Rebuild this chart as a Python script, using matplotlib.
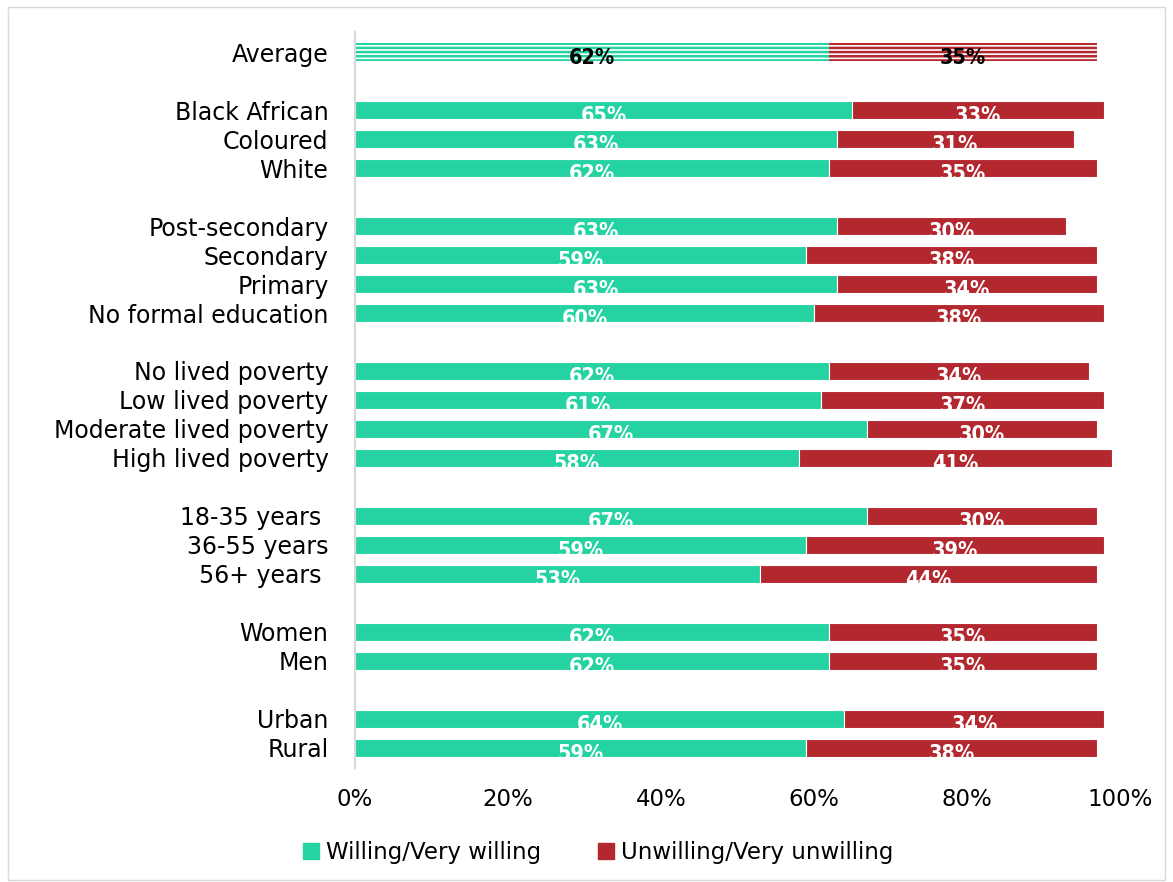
import matplotlib
matplotlib.use("Agg")
import matplotlib.pyplot as plt
from matplotlib.patches import Rectangle

categories = [
    "Average",
    "Black African", "Coloured", "White",
    "Post-secondary", "Secondary", "Primary", "No formal education",
    "No lived poverty", "Low lived poverty", "Moderate lived poverty", "High lived poverty",
    "18-35 years ", "36-55 years", "56+ years ",
    "Women", "Men",
    "Urban", "Rural",
]
# slot index of each category (blank slots separate the groups)
slots = [0, 2, 3, 4, 6, 7, 8, 9, 11, 12, 13, 14, 16, 17, 18, 20, 21, 23, 24]

willing = [62, 65, 63, 62, 63, 59, 63, 60, 62, 61, 67, 58, 67, 59, 53, 62, 62, 64, 59]
unwilling = [35, 33, 31, 35, 30, 38, 34, 38, 34, 37, 30, 41, 30, 39, 44, 35, 35, 34, 38]

GREEN = "#25D3A2"
RED = "#B3282E"

plt.rcParams["font.family"] = ["DejaVu Sans"]
plt.rcParams["hatch.linewidth"] = 1.8

fig = plt.figure(figsize=(11.73, 8.82), dpi=100)
ax = fig.add_axes([0.3026, 0.129, 0.652, 0.835])

h = 0.6
for i, (y, w, u) in enumerate(zip(slots, willing, unwilling)):
    if i == 0:
        bars = [
            ax.barh(y, w, height=h, color="white", edgecolor=GREEN, hatch="----", linewidth=0),
            ax.barh(y, u, left=w, height=h, color="white", edgecolor=RED, hatch="----", linewidth=0),
        ]
        for b in bars:
            for p in b:
                if hasattr(p, "set_hatch_linewidth"):
                    p.set_hatch_linewidth(1.8)
        tc = "black"
    else:
        ax.barh(y, w, height=h, color=GREEN, edgecolor="white", linewidth=0.8)
        ax.barh(y, u, left=w, height=h, color=RED, edgecolor="white", linewidth=0.8)
        tc = "white"
    for x, v in ((w / 2, w), (w + u / 2, u)):
        ax.text(x, y + 0.2, f"{v}%", ha="center", va="center", color=tc,
                fontsize=15.5, fontweight="bold", fontstretch="condensed")

ax.set_xlim(0, 100)
ax.set_ylim(24.7, -0.7)
ax.set_yticks(slots)
ax.set_yticklabels(categories, fontsize=17)
ax.set_xticks(range(0, 101, 20))
ax.set_xticklabels([f"{t}%" for t in range(0, 101, 20)], fontsize=16.5)
ax.tick_params(axis="y", length=0, pad=19)
ax.tick_params(axis="x", length=0, pad=14)
for s in ("top", "right", "bottom"):
    ax.spines[s].set_visible(False)
ax.spines["left"].set_color("#d9d9d9")
ax.spines["left"].set_linewidth(1.5)

handles = [Rectangle((0, 0), 1, 1, color=GREEN), Rectangle((0, 0), 1, 1, color=RED)]
fig.legend(handles, ["Willing/Very willing", "Unwilling/Very unwilling"],
           loc="center", bbox_to_anchor=(0.51, 0.033), ncol=2, frameon=False,
           fontsize=16.5, handlelength=0.7, handleheight=0.7, columnspacing=2.5,
           handletextpad=0.3)

fig.patches.append(Rectangle((0.007, 0.002), 0.986, 0.99, transform=fig.transFigure,
                             fill=False, edgecolor="#d9d9d9", linewidth=1))

fig.savefig("out.png", dpi=100)
